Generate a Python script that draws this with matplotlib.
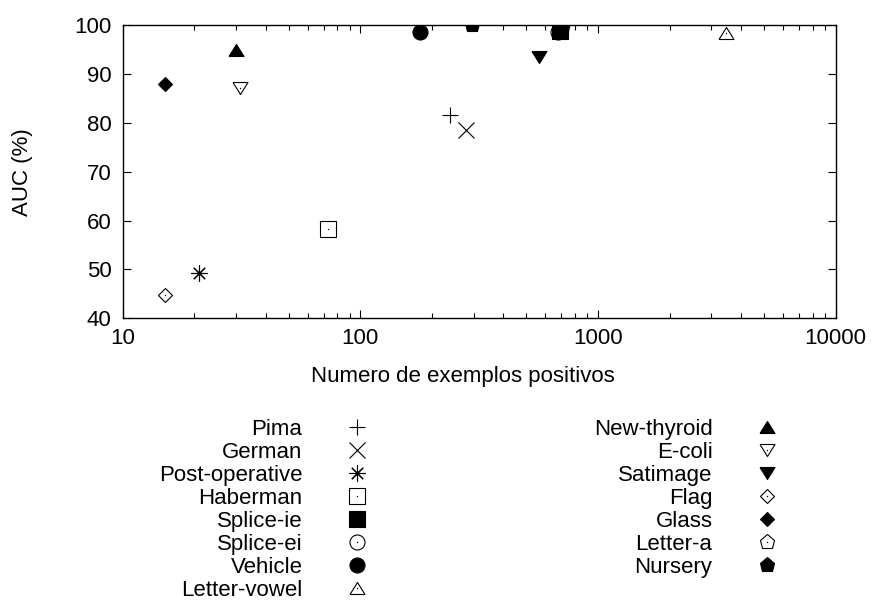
import numpy as np
import matplotlib
matplotlib.use('Agg')
import matplotlib.pyplot as plt
from matplotlib.ticker import LogLocator, NullFormatter, FixedLocator

plt.rcParams['font.family'] = ['Liberation Sans', 'DejaVu Sans']

# bases de dados: numero de exemplos positivos e AUC (%)
nomes = ['Pima', 'German', 'Post-operative', 'Haberman', 'Splice-ie',
         'Splice-ei', 'Vehicle', 'Letter-vowel', 'New-thyroid', 'E-coli',
         'Satimage', 'Flag', 'Glass', 'Letter-a', 'Nursery']
positivos = [239, 278, 21, 73, 694, 680, 179, 3460, 30, 31, 562, 15, 15, 713, 296]
auc = [81.6, 78.5, 49.2, 58.2, 98.8, 98.6, 98.5, 98.4, 94.9, 87.2, 93.4, 44.8, 88.0, 99.9, 99.9]

# simbolos (marcador, preenchido)
tri_up = [(-1, -0.8), (1, -0.8), (0, 0.8), (-1, -0.8)]
tri_dn = [(-1, 0.8), (1, 0.8), (0, -0.8), (-1, 0.8)]
estrela = (8, 2, 0)
simbolos = [('+', None), ('x', None), (estrela, None), ('s', False),
            ('s', True), ('o', False), ('o', True), (tri_up, False),
            (tri_up, True), (tri_dn, False), (tri_dn, True), ('D', False),
            ('D', True), ('p', False), ('p', True)]


def tamanho(m):
    if m == estrela:
        return 11.5
    if isinstance(m, str):
        return {'+': 11.5, 'x': 11.0, 's': 11.0, 'o': 10.8, 'D': 7.6, 'p': 11.2}[m]
    return 10.8


fig = plt.figure(figsize=(8.73, 6.08), dpi=100)
ax = fig.add_axes([0.1406, 0.4765, 0.8166, 0.4824])

handles = []
for i, (m, cheio) in enumerate(simbolos):
    if cheio is None:
        kw = dict(color='black', mew=0.8)
    elif cheio:
        kw = dict(mfc='black', mec='black', mew=0.8)
    else:
        kw = dict(mfc='none', mec='black', mew=0.8)
    h, = ax.plot([positivos[i]], [auc[i]], ls='none', marker=m, ms=tamanho(m), **kw)
    if cheio is False:
        # pontinho central dos simbolos vazios
        d, = ax.plot([positivos[i]], [auc[i]], ls='none', marker='o', ms=1.0,
                     mfc='black', mec='none')
        handles.append((h, d))
    else:
        handles.append(h)

ax.set_xscale('log')
ax.set_xlim(10, 10000)
ax.set_ylim(40, 100)
ax.xaxis.set_major_locator(FixedLocator([10, 100, 1000, 10000]))
ax.xaxis.set_minor_locator(LogLocator(base=10, subs=np.arange(2, 10)))
ax.xaxis.set_minor_formatter(NullFormatter())
ax.set_xticklabels(['10', '100', '1000', '10000'])
ax.set_yticks(np.arange(40, 101, 10))

ax.tick_params(which='both', direction='in', top=True, right=True,
               labelsize=16, width=0.8)
ax.tick_params(which='major', length=6)
ax.tick_params(which='minor', length=3.5)
ax.tick_params(axis='x', pad=7)
ax.tick_params(axis='y', pad=8)
for s in ax.spines.values():
    s.set_linewidth(1.0)

ax.set_xlabel('Numero de exemplos positivos', fontsize=16)
ax.set_ylabel('AUC (%)', fontsize=16)
ax.xaxis.set_label_coords(0.4776, -0.163)
ax.yaxis.set_label_coords(-0.126, 0.5)

# legenda em duas colunas, texto a direita e simbolo a esquerda
kw_leg = dict(loc='upper right', frameon=False, markerfirst=False,
              fontsize=16, numpoints=1, handlelength=1.9, handletextpad=1.5,
              labelspacing=0.09, borderpad=0, borderaxespad=0)
leg1 = fig.legend(handles[:8], nomes[:8], bbox_to_anchor=(378 / 873, 1 - 419 / 608), **kw_leg)
leg2 = fig.legend(handles[8:], nomes[8:], bbox_to_anchor=(788 / 873, 1 - 419 / 608), **kw_leg)

fig.savefig('out.png', dpi=100)
